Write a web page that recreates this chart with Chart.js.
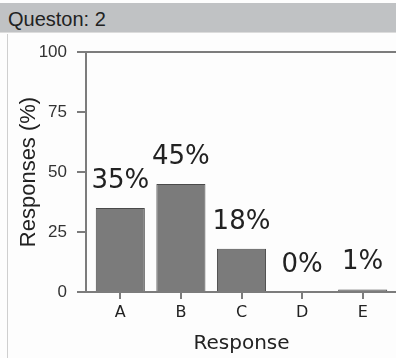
<!DOCTYPE html>
<html>
<head>
<meta charset="utf-8">
<script src="https://cdn.jsdelivr.net/npm/chart.js@4/dist/chart.umd.min.js"></script>
<style>
  html, body { margin: 0; padding: 0; background: #fdfdfd; }
  #wrap { position: relative; width: 396px; height: 358px; overflow: hidden; }
  #bar {
    position: absolute; left: 0; top: 3px; width: 396px; height: 30px;
    background: #c0c2c4; border-bottom: 1px solid #dcdcdc;
    font: 20px "Liberation Sans", Arial, sans-serif; color: #222;
    line-height: 32px; padding-left: 8px; box-sizing: border-box;
  }
  #edge { position: absolute; left: 7px; top: 34px; width: 1px; height: 324px; background: #cfcfcf; }
  #c { position: absolute; left: 0; top: 0; }
</style>
</head>
<body>
<div id="wrap">
  <div id="bar">Queston: 2</div>
  <div id="edge"></div>
  <canvas id="c" width="396" height="358"></canvas>
</div>
<script>
const categories = ['A', 'B', 'C', 'D', 'E'];
const responses = [35, 45, 18, 0, 1];
const yTicks = [0, 25, 50, 75, 100];

const axisColor = '#7c7c7c';

// axis lines + percent labels
const framePlugin = {
  id: 'frame',
  afterDraw(chart) {
    const { ctx, chartArea: a, scales: { x, y } } = chart;
    const ax = a.left - 4;
    ctx.save();
    ctx.strokeStyle = axisColor;
    ctx.lineWidth = 2;
    ctx.beginPath();
    ctx.moveTo(ax, a.top);
    ctx.lineTo(ax, a.bottom);
    ctx.moveTo(ax, a.top);
    ctx.lineTo(chart.width, a.top);
    ctx.moveTo(ax - 1, a.bottom);
    ctx.lineTo(chart.width, a.bottom);
    yTicks.forEach(v => {
      const py = y.getPixelForValue(v);
      ctx.moveTo(ax - 9, py);
      ctx.lineTo(ax, py);
    });
    ctx.stroke();

    const meta = chart.getDatasetMeta(0);
    ctx.fillStyle = '#222';
    ctx.font = '26px "DejaVu Sans", sans-serif';
    ctx.textAlign = 'center';
    ctx.textBaseline = 'bottom';
    meta.data.forEach((bar, i) => {
      ctx.fillText(responses[i] + '%', bar.x, bar.y - 14);
    });
    ctx.restore();
  }
};

new Chart(document.getElementById('c'), {
  type: 'bar',
  data: {
    labels: categories,
    datasets: [{
      data: responses,
      backgroundColor: '#7b7b7b',
      borderColor: '#4a4a4a',
      borderWidth: 1,
      borderSkipped: 'bottom',
      categoryPercentage: 1,
      barPercentage: 0.81
    }]
  },
  options: {
    responsive: false,
    animation: false,
    layout: { padding: { left: 0, top: 52, right: 3, bottom: 0 } },
    scales: {
      x: {
        afterFit: s => { s.height = 66; },
        border: { display: false },
        grid: { offset: false, drawOnChartArea: false, tickLength: 7, color: axisColor, lineWidth: 2 },
        ticks: { color: '#222', font: { family: 'DejaVu Sans', size: 16 }, padding: 4 },
        title: { display: true, text: 'Response', color: '#222', font: { family: 'DejaVu Sans', size: 20 }, padding: { top: 0, bottom: 2 } }
      },
      y: {
        min: 0,
        max: 100,
        afterFit: s => { s.width = 90; },
        border: { display: false },
        grid: { display: false },
        ticks: { stepSize: 25, color: '#333', font: { family: 'Liberation Sans', size: 17 }, padding: 15 },
        title: { display: true, text: 'Responses (%)', color: '#222', font: { family: 'Liberation Sans', size: 22 }, padding: { top: 16, bottom: 0 } }
      }
    },
    plugins: {
      legend: { display: false },
      tooltip: { enabled: false }
    }
  },
  plugins: [framePlugin]
});
</script>
</body>
</html>
